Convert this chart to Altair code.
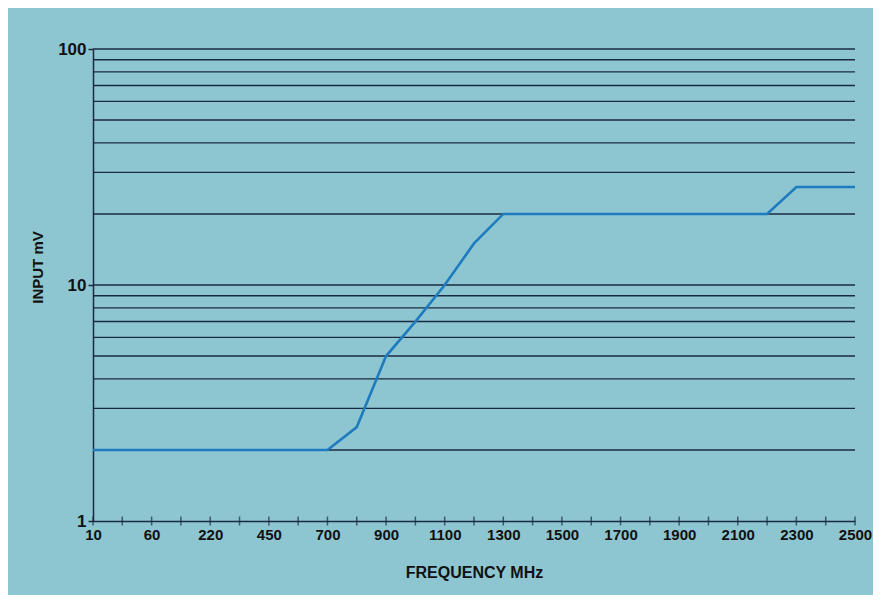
import altair as alt
import numpy as np
import pandas as pd

# Axis categories (evenly spaced on the original chart)
freq_labels = [10, 60, 220, 450, 700, 900, 1100, 1300, 1500, 1700, 1900, 2100, 2300, 2500]

# Series
line_freq = [10, 700, 800, 900, 1000, 1100, 1200, 1300, 2200, 2300, 2500]
line_mv = [2, 2, 2.5, 5, 7, 10, 15, 20, 20, 26, 26]

# Horizontal grid levels (mV)
grid_mv = [2, 3, 4, 5, 6, 7, 8, 9, 10, 20, 30, 40, 50, 60, 70, 80, 90, 100]
y_labels = [1, 10, 100]

idx = list(range(len(freq_labels)))
line_df = pd.DataFrame({"pos": np.interp(line_freq, freq_labels, idx), "mv": line_mv})
grid_df = pd.DataFrame({"mv": grid_mv})
tick_df = pd.DataFrame({"pos": np.arange(0, len(freq_labels) - 0.99, 0.5)})

FONT = "Liberation Sans, Arial, sans-serif"
DARK = "#1b2a40"
BG = "#8dc6d1"

label_arr = "[" + ",".join("'%d'" % v for v in freq_labels) + "]"

xs = alt.Scale(domain=[0, len(freq_labels) - 1], nice=False, zero=False)
ys = alt.Scale(type="log", domain=[1, 100], nice=False)

x_axis = alt.Axis(
    values=idx, labelExpr=label_arr + "[datum.value]", ticks=False, grid=False,
    labelFlush=False, labelOverlap=False,
    domainColor=DARK, domainWidth=1.5, labelFont=FONT, labelFontSize=15,
    labelFontWeight="bold", labelColor="#111", labelPadding=6,
    title="FREQUENCY MHz", titleFont=FONT, titleFontSize=16, titleFontWeight="bold",
    titleColor="#111", titlePadding=22,
)
y_axis = alt.Axis(
    values=y_labels, format="d", grid=False, tickSize=5, tickColor=DARK, tickWidth=1.5,
    labelFlush=False, labelOverlap=False,
    domainColor=DARK, domainWidth=1.5, labelFont=FONT, labelFontSize=17,
    labelFontWeight="bold", labelColor="#111", labelPadding=2,
    title="INPUT mV", titleFont=FONT, titleFontSize=15, titleFontWeight="bold",
    titleColor="#111", titlePadding=12, titleY=218,
)

grid = alt.Chart(grid_df).mark_rule(color=DARK, strokeWidth=1.4).encode(
    y=alt.Y("mv:Q", scale=ys, axis=y_axis),
    x=alt.datum(0, scale=xs, axis=x_axis),
    x2=alt.datum(len(freq_labels) - 1),
)

ticks = alt.Chart(tick_df).mark_tick(orient="vertical", size=9, thickness=1.5, color=DARK).encode(
    x=alt.X("pos:Q", scale=xs, axis=x_axis),
    y=alt.datum(1, scale=ys),
)

line = alt.Chart(line_df).mark_line(color="#1f7bbf", strokeWidth=2.6).encode(
    x=alt.X("pos:Q", scale=xs, axis=x_axis),
    y=alt.Y("mv:Q", scale=ys, axis=y_axis),
)

chart = alt.layer(grid, ticks, line).properties(
    width=762, height=472,
    autosize=alt.AutoSizeParams(type="none"),
    padding={"left": 85, "top": 41, "right": 18, "bottom": 74},
    background=BG,
).configure_view(stroke=None)

chart.save("out.html", embed_options={"renderer": "svg", "actions": False})
